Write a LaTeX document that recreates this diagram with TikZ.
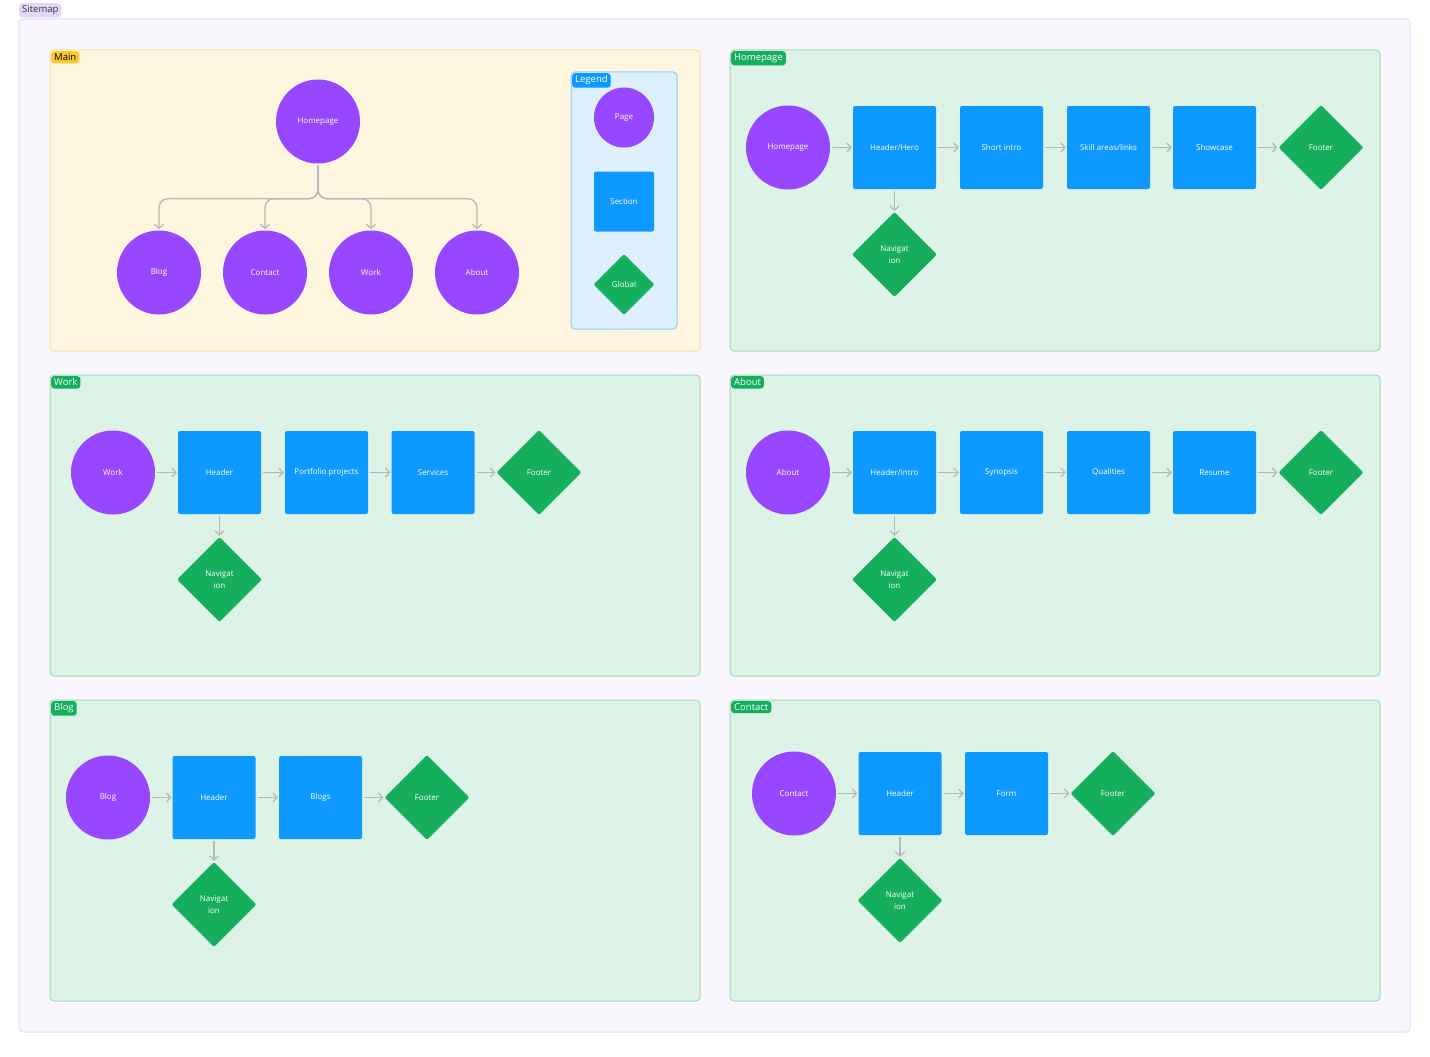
\documentclass[tikz,border=0pt]{standalone}
\usepackage{fontspec}
\setmainfont{Open Sans}
\usetikzlibrary{shapes.geometric}
\usetikzlibrary{arrows.meta}
\definecolor{pagecol}{HTML}{9747FF}
\definecolor{sectcol}{HTML}{0D99FF}
\definecolor{globcol}{HTML}{14AE5C}
\definecolor{conncol}{HTML}{B8B8B8}
\definecolor{outfill}{HTML}{F9F6FE}
\definecolor{outline}{HTML}{E6DAFB}
\definecolor{sitetag}{HTML}{E4D6FB}
\definecolor{mainfill}{HTML}{FFF6E0}
\definecolor{mainline}{HTML}{F7DFA0}
\definecolor{maintag}{HTML}{FFC929}
\definecolor{legfill}{HTML}{DDF0FE}
\definecolor{legline}{HTML}{8DCDF7}
\definecolor{panfill}{HTML}{DDF3E7}
\definecolor{panline}{HTML}{9BDCB7}
\newcommand*{\pwd}{650}
\newcommand*{\pht}{301}

\begin{document}
\begin{tikzpicture}[x=1pt, y=-1pt, font=\fontsize{8}{11.5}\selectfont,
    page/.style={circle, fill=pagecol, text=white, minimum size=84pt, inner sep=0pt},
    section/.style={rectangle, rounded corners=2pt, fill=sectcol, text=white, minimum size=83pt, inner sep=0pt},
    global/.style={diamond, rounded corners=2pt, fill=globcol, text=white, minimum size=85pt, inner sep=0pt, align=center},
    conn/.style={draw=conncol, line width=1.3pt, -{Straight Barb[length=4pt,width=9pt]}, shorten <=2pt, shorten >=1pt},
    tag/.style={anchor=north west, rounded corners=3pt, inner xsep=3pt, inner ysep=2.5pt, font=\fontsize{9.5}{10}\selectfont},
    panel/.style={rounded corners=4pt, line width=1pt}]
    \useasboundingbox (0,0) rectangle (1430,1057);
    % frame and panels
    \draw [panel, fill=outfill, draw=outline] (19,19) rectangle ++(1391,1013);
    \node [tag, fill=sitetag, text=black!80] (t-site) at (19,3) {Sitemap};
    \draw [panel, fill=mainfill, draw=mainline] (50,50) rectangle ++(\pwd,\pht);
    \draw [panel, fill=panfill, draw=panline] (730,50) rectangle ++(\pwd,\pht);
    \draw [panel, fill=panfill, draw=panline] (50,375) rectangle ++(\pwd,\pht);
    \draw [panel, fill=panfill, draw=panline] (730,375) rectangle ++(\pwd,\pht);
    \draw [panel, fill=panfill, draw=panline] (50,700) rectangle ++(\pwd,\pht);
    \draw [panel, fill=panfill, draw=panline] (730,700) rectangle ++(\pwd,\pht);
    \node [tag, fill=maintag, text=black] (t-main) at (51,51) {Main};
    \node [tag, fill=globcol, text=white] (t-home) at (731,51) {Homepage};
    \node [tag, fill=globcol, text=white] (t-work) at (51,376) {Work};
    \node [tag, fill=globcol, text=white] (t-about) at (731,376) {About};
    \node [tag, fill=globcol, text=white] (t-blog) at (51,701) {Blog};
    \node [tag, fill=globcol, text=white] (t-cont) at (731,701) {Contact};

    % main
    \node [page] (m-home) at (318,121.5) {Homepage};
    \node [page] (m-blog) at (159,272.5) {Blog};
    \node [page] (m-cont) at (265,272.5) {Contact};
    \node [page] (m-work) at (371,272.5) {Work};
    \node [page] (m-about) at (477,272.5) {About};
    \draw [conn, rounded corners=9pt] (m-home.south) -- ++(0,35) -| (m-blog.north);
    \draw [conn, rounded corners=9pt] (m-home.south) -- ++(0,35) -| (m-cont.north);
    \draw [conn, rounded corners=9pt] (m-home.south) -- ++(0,35) -| (m-work.north);
    \draw [conn, rounded corners=9pt] (m-home.south) -- ++(0,35) -| (m-about.north);

    % legend
    \draw [panel, fill=legfill, draw=legline] (571,72) rectangle (677,329);
    \node [tag, fill=sectcol, text=white] (t-leg) at (572,73) {Legend};
    \node [page, minimum size=60pt] (l-page) at (624,117.5) {Page};
    \node [section, minimum size=60pt] (l-sect) at (624,201.5) {Section};
    \node [global, minimum size=61pt] (l-glob) at (624,284.5) {Global};

    % homepage
    \node [page] (hp-page) at (788,147.5) {Homepage};
    \node [section] (hp-hero) at (894.5,147.5) {Header/Hero};
    \node [section] (hp-intro) at (1001.5,147.5) {Short intro};
    \node [section] (hp-skill) at (1108.5,147.5) {Skill areas/links};
    \node [section] (hp-show) at (1214.5,147.5) {Showcase};
    \node [global] (hp-foot) at (1321,147.5) {Footer};
    \node [global] (hp-nav) at (894.5,254.5) {Navigat\\ion};
    \draw [conn] (hp-page) -- (hp-hero);
    \draw [conn] (hp-hero) -- (hp-intro);
    \draw [conn] (hp-intro) -- (hp-skill);
    \draw [conn] (hp-skill) -- (hp-show);
    \draw [conn] (hp-show) -- (hp-foot);
    \draw [conn] (hp-hero) -- (hp-nav);

    % work
    \node [page] (w-page) at (113,472.5) {Work};
    \node [section] (w-head) at (219.5,472.5) {Header};
    \node [section] (w-port) at (326.5,472.5) {Portfolio projects};
    \node [section] (w-serv) at (433,472.5) {Services};
    \node [global] (w-foot) at (539,472.5) {Footer};
    \node [global] (w-nav) at (219.5,579.5) {Navigat\\ion};
    \draw [conn] (w-page) -- (w-head);
    \draw [conn] (w-head) -- (w-port);
    \draw [conn] (w-port) -- (w-serv);
    \draw [conn] (w-serv) -- (w-foot);
    \draw [conn] (w-head) -- (w-nav);

    % about
    \node [page] (a-page) at (788,472.5) {About};
    \node [section] (a-head) at (894.5,472.5) {Header/intro};
    \node [section] (a-syn) at (1001.5,472.5) {Synopsis};
    \node [section] (a-qual) at (1108.5,472.5) {Qualities};
    \node [section] (a-res) at (1214.5,472.5) {Resume};
    \node [global] (a-foot) at (1321,472.5) {Footer};
    \node [global] (a-nav) at (894.5,579.5) {Navigat\\ion};
    \draw [conn] (a-page) -- (a-head);
    \draw [conn] (a-head) -- (a-syn);
    \draw [conn] (a-syn) -- (a-qual);
    \draw [conn] (a-qual) -- (a-res);
    \draw [conn] (a-res) -- (a-foot);
    \draw [conn] (a-head) -- (a-nav);

    % blog
    \node [page] (b-page) at (108,797.5) {Blog};
    \node [section] (b-head) at (214,797.5) {Header};
    \node [section] (b-blogs) at (320.5,797.5) {Blogs};
    \node [global] (b-foot) at (427,797.5) {Footer};
    \node [global] (b-nav) at (214,904.5) {Navigat\\ion};
    \draw [conn] (b-page) -- (b-head);
    \draw [conn] (b-head) -- (b-blogs);
    \draw [conn] (b-blogs) -- (b-foot);
    \draw [conn] (b-head) -- (b-nav);

    % contact
    \node [page] (c-page) at (794,793.5) {Contact};
    \node [section] (c-head) at (900,793.5) {Header};
    \node [section] (c-form) at (1006.5,793.5) {Form};
    \node [global] (c-foot) at (1113,793.5) {Footer};
    \node [global] (c-nav) at (900,900.5) {Navigat\\ion};
    \draw [conn] (c-page) -- (c-head);
    \draw [conn] (c-head) -- (c-form);
    \draw [conn] (c-form) -- (c-foot);
    \draw [conn] (c-head) -- (c-nav);
    %\draw [help lines, step=50] (0,0) grid (1430,1057);
\end{tikzpicture}
\end{document}
